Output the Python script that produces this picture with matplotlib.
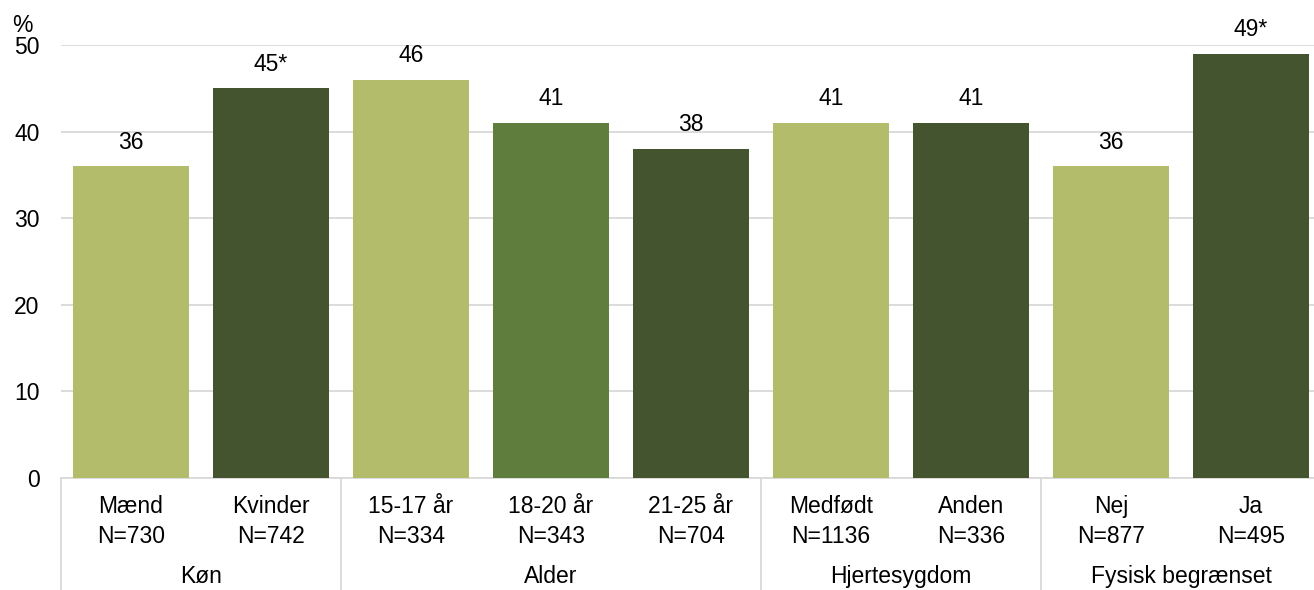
import matplotlib.pyplot as plt

plt.rcParams['font.family'] = ['Liberation Sans', 'DejaVu Sans']

# data
categories = ['Mænd', 'Kvinder', '15-17 år', '18-20 år', '21-25 år',
              'Medfødt', 'Anden', 'Nej', 'Ja']
n_values = [730, 742, 334, 343, 704, 1136, 336, 877, 495]
values = [36, 45, 46, 41, 38, 41, 41, 36, 49]
value_labels = ['36', '45*', '46', '41', '38', '41', '41', '36', '49*']
groups = ['Køn', 'Alder', 'Hjertesygdom', 'Fysisk begrænset']
group_sizes = [2, 3, 2, 2]

light = '#B3BC6A'
mid = '#5F7D3C'
dark = '#44542E'
colors = [light, dark, light, mid, dark, light, dark, light, dark]

fs = 16.5
fig = plt.figure(figsize=(13.14, 5.9), dpi=100)
W, H = 1314, 590
AX_H = 433
ax = fig.add_axes([61 / W, 112 / H, 1260 / W, AX_H / H])

x = list(range(len(categories)))
bars = ax.bar(x, values, width=0.835, color=colors, zorder=3)
ax.bar_label(bars, labels=value_labels, padding=9, fontsize=fs)

ax.set_xlim(-0.5, len(categories) - 0.5)
ax.set_ylim(0, 50)
ax.set_yticks(range(0, 51, 10))
ax.yaxis.grid(True, color='#D9D9D9', linewidth=1.3, zorder=0)
ax.tick_params(axis='y', length=0, pad=15.5, labelsize=fs)
ax.set_xticks([])

for s in ['top', 'right', 'left']:
    ax.spines[s].set_visible(False)
ax.spines['bottom'].set_color('#D9D9D9')
ax.spines['bottom'].set_linewidth(1.3)

trans = ax.get_xaxis_transform()


def ypix(p):
    # pixel row in figure -> axes fraction
    return -(p - 478) / AX_H


for i, (c, n) in enumerate(zip(categories, n_values)):
    ax.text(i, ypix(513), c, transform=trans, ha='center', va='baseline', fontsize=fs)
    ax.text(i, ypix(543), f'N={n}', transform=trans, ha='center', va='baseline', fontsize=fs)

# group separators and labels
start = -0.5
for g, size in zip(groups, group_sizes):
    ax.plot([start, start], [0, ypix(592)], transform=trans, color='#D9D9D9',
            linewidth=1.3, clip_on=False)
    ax.text(start + size / 2, ypix(583), g, transform=trans,
            ha='center', va='baseline', fontsize=fs)
    start += size

fig.text(12 / W, 1 - 32 / H, '%', fontsize=fs, va='baseline', ha='left')

fig.savefig('out.png', dpi=100)
